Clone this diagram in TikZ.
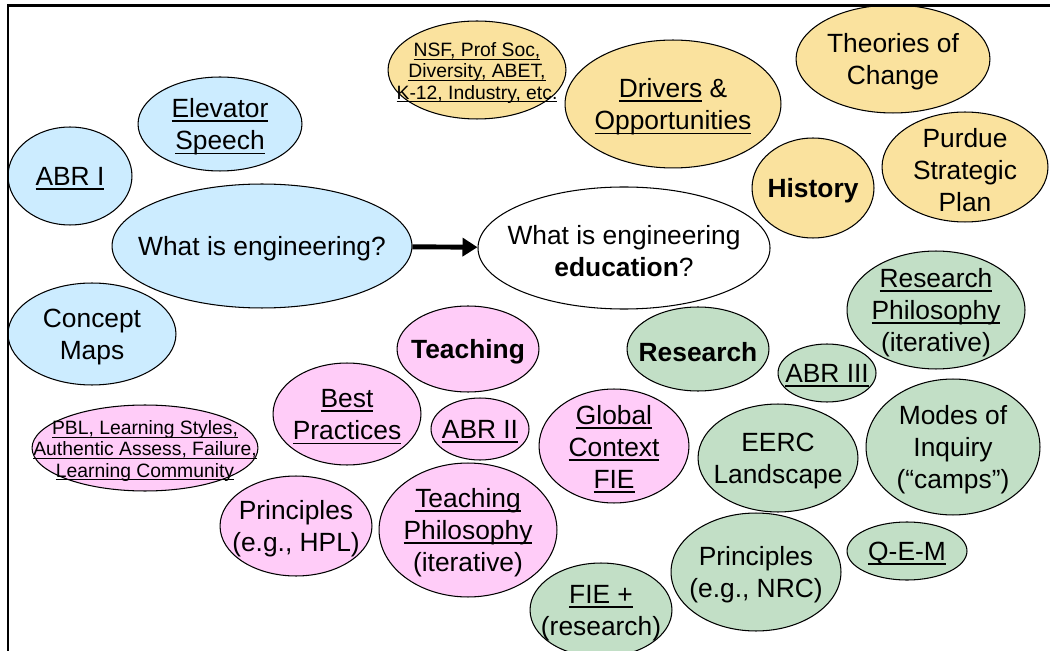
\documentclass[tikz,border=0pt]{standalone}
\usepackage{fontspec}
\setmainfont{Liberation Sans}
\usetikzlibrary{shapes.geometric,arrows.meta}
\definecolor{blueFill}{HTML}{CCECFF}
\definecolor{yellowFill}{HTML}{FAE29E}
\definecolor{greenFill}{HTML}{C2DFC6}
\definecolor{pinkFill}{HTML}{FFCCF8}
% underline at a fixed depth, whatever the letters
\newsavebox{\ulBox}
\newcommand{\ulText}[1]{\sbox{\ulBox}{#1}\rlap{\rule[-0.17em]{\wd\ulBox}{0.07em}}\usebox{\ulBox}}

\begin{document}
\begin{tikzpicture}
[x=0.02cm,y=-0.02cm,
  bubbleDecorate/.style={shape=ellipse,draw,line width=0.6pt,inner sep=0pt},
  textDecorate/.style={align=center,inner sep=0pt,yshift=-0.06cm},
  bigText/.style={font=\fontsize{15}{18.3}\selectfont},
  smallText/.style={font=\fontsize{11}{12}\selectfont},
  arrowDecorate/.style={-{Triangle[length=0.3cm,width=0.36cm]},line width=2.8pt},
  frameDecorate/.style={line width=0.06cm}]
\useasboundingbox (0,0) rectangle (1050,651);
%% blue bubbles
\foreach \nodename/\x/\y/\rx/\ry/\txtstyle/\txt in {
  elevator/220/124/82/47/bigText/{\ulText{Elevator}\\\ulText{Speech}},
  abrOne/70/176/62/49/bigText/{\ulText{ABR I}},
  whatEng/262/246/150/62/bigText/{What is engineering?},
  conceptMaps/92/334/84/51/bigText/{Concept\\Maps}}
{
  \node (\nodename) at (\x,\y) [bubbleDecorate,fill=blueFill,
    minimum width=\rx*0.04cm,minimum height=\ry*0.04cm] {};
  \node (\nodename Text) at (\nodename) [textDecorate,\txtstyle] {\txt};
}
%% yellow bubbles
\foreach \nodename/\x/\y/\rx/\ry/\txtstyle/\txt in {
  nsf/477/70/89/49/smallText/{\ulText{NSF, Prof Soc,}\\\ulText{Diversity, ABET,}\\\ulText{K-12, Industry, etc.}},
  drivers/673/104/108/64/bigText/{\ulText{Drivers} \&\\\ulText{Opportunities}},
  theories/893/59/97/54/bigText/{Theories of\\Change},
  purdue/965/167/83/55/bigText/{Purdue\\Strategic\\Plan},
  history/813/188/61/50/bigText/{\textbf{History}}}
{
  \node (\nodename) at (\x,\y) [bubbleDecorate,fill=yellowFill,
    minimum width=\rx*0.04cm,minimum height=\ry*0.04cm] {};
  \node (\nodename Text) at (\nodename) [textDecorate,\txtstyle] {\txt};
}
%% the middle one
\node (whatEdu) at (624,248) [bubbleDecorate,fill=white,
  minimum width=292*0.02cm,minimum height=122*0.02cm] {};
\node (whatEduText) at (whatEdu) [textDecorate,bigText]
  {What is engineering\\\textbf{education}?};
%% green bubbles
\foreach \nodename/\x/\y/\rx/\ry/\txtstyle/\txt in {
  resPhil/936/310/89/59/bigText/{\ulText{Research}\\\ulText{Philosophy}\\(iterative)},
  research/698/349/71/42/bigText/{\textbf{Research}},
  abrThree/827/373/49/29/bigText/{\ulText{ABR III}},
  modes/953/447/87/68/bigText/{Modes of\\Inquiry\\(“camps”)},
  eerc/778/458/80/54/bigText/{EERC\\Landscape},
  principlesNrc/756/572/85/59/bigText/{Principles\\(e.g., NRC)},
  qem/907/551/60/29/bigText/{\ulText{Q-E-M}},
  fiePlus/601/610/71/47/bigText/{\ulText{FIE +}\\(research)}}
{
  \node (\nodename) at (\x,\y) [bubbleDecorate,fill=greenFill,
    minimum width=\rx*0.04cm,minimum height=\ry*0.04cm] {};
  \node (\nodename Text) at (\nodename) [textDecorate,\txtstyle] {\txt};
}
%% pink bubbles
\foreach \nodename/\x/\y/\rx/\ry/\txtstyle/\txt in {
  teaching/468/349/71/43/bigText/{\textbf{Teaching}},
  bestPractices/347/414/74/51/bigText/{\ulText{Best}\\\ulText{Practices}},
  abrTwo/480/429/49/31/bigText/{\ulText{ABR II}},
  globalContext/614/446/75/57/bigText/{\ulText{Global}\\\ulText{Context}\\\ulText{FIE}},
  pbl/145/448/113/43/smallText/{\ulText{PBL, Learning Styles,}\\\ulText{Authentic Assess, Failure,}\\\ulText{Learning Community}},
  principlesHpl/296/526/76/50/bigText/{Principles\\(e.g., HPL)},
  teachPhil/468/530/89/67/bigText/{\ulText{Teaching}\\\ulText{Philosophy}\\(iterative)}}
{
  \node (\nodename) at (\x,\y) [bubbleDecorate,fill=pinkFill,
    minimum width=\rx*0.04cm,minimum height=\ry*0.04cm] {};
  \node (\nodename Text) at (\nodename) [textDecorate,\txtstyle] {\txt};
}
%% arrow and frame
\draw[arrowDecorate] (whatEng) -- (whatEdu);
\draw[frameDecorate] (8,651) -- (8,6) -- (1050,6);
\end{tikzpicture}
\end{document}
